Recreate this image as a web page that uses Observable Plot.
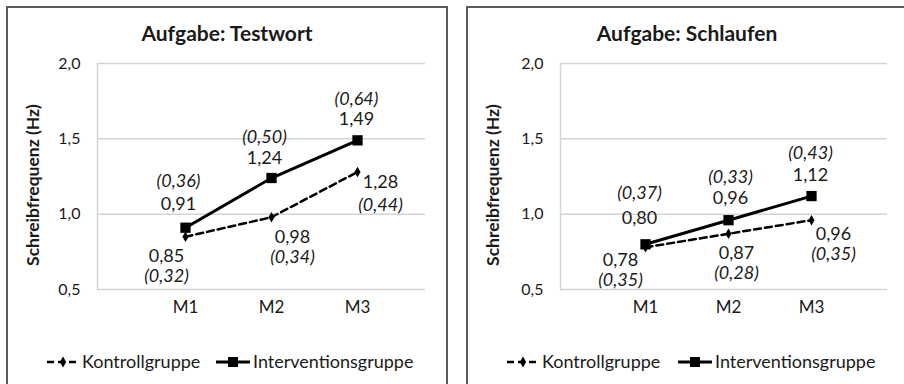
<!DOCTYPE html>
<html><head><meta charset="utf-8">
<script src="https://cdn.jsdelivr.net/npm/d3@7"></script>
<script src="https://cdn.jsdelivr.net/npm/@observablehq/plot@0.6"></script>
<style>
body{margin:0;background:#fff;width:904px;height:384px;overflow:hidden;position:relative;font-family:Lato,sans-serif;color:#1a1a1a}
.border{position:absolute;border:2px solid #5a5a5a;box-sizing:border-box;top:6px;height:420px;width:442px}
.svgwrap{position:absolute;top:0}
.title{position:absolute;top:20px;width:440px;text-align:center;font-weight:bold;font-size:21px;line-height:26px}
.ylab{position:absolute;font-weight:bold;font-size:17.5px;white-space:nowrap;transform:translate(-50%,-50%) rotate(-90deg)}
.legend{position:absolute;top:350px;height:26px}
</style>
</head><body>
<script>
// ---- data ----
const categories = ["M1", "M2", "M3"];
const seriesNames = ["Kontrollgruppe", "Interventionsgruppe"];
const titles = ["Aufgabe: Testwort", "Aufgabe: Schlaufen"];
const yAxisTitle = "Schreibfrequenz (Hz)";
const yTicks = [0.5, 1.0, 1.5, 2.0];

const testwortKontroll = [0.85, 0.98, 1.28];
const testwortKontrollSD = [0.32, 0.34, 0.44];
const testwortIntervention = [0.91, 1.24, 1.49];
const testwortInterventionSD = [0.36, 0.50, 0.64];

const schlaufenKontroll = [0.78, 0.87, 0.96];
const schlaufenKontrollSD = [0.35, 0.28, 0.35];
const schlaufenIntervention = [0.80, 0.96, 1.12];
const schlaufenInterventionSD = [0.37, 0.33, 0.43];

// ---- layout (not data) ----
const panels = [
  {title: titles[0], kon: testwortKontroll, konSD: testwortKontrollSD, int: testwortIntervention, intSD: testwortInterventionSD,
   svgLeft: 0, marginLeft: 97, marginRight: 27, xRange: [184, 357], borderLeft: 6, titleLeft: 7, ylabX: 32,
   intOff: [[-7,-23,-46],[-7,-20,-41],[-1,-21,-41]], konOff: [[-19,19,39],[21,20,40],[23,10,33]],
   legend: {left: 44, gap: 169}},
  {title: titles[1], kon: schlaufenKontroll, konSD: schlaufenKontrollSD, int: schlaufenIntervention, intSD: schlaufenInterventionSD,
   svgLeft: 452, marginLeft: 108, marginRight: 17, xRange: [192, 359], borderLeft: 466, titleLeft: 467, ylabX: 492,
   intOff: [[-6,-26,-51],[2,-22,-43],[-1,-21,-43]], konOff: [[-25,13,33],[8,19,39],[22,14,34]],
   legend: {left: 504, gap: 171}}
];

const fmt2 = v => v.toFixed(2).replace(".", ",");
const fmt1 = v => v.toFixed(1).replace(".", ",");

for (const p of panels) {
  const border = document.createElement("div");
  border.className = "border"; border.style.left = p.borderLeft + "px";
  document.body.appendChild(border);

  const kRows = categories.map((c, i) => ({cat: c, v: p.kon[i], sd: p.konSD[i]}));
  const iRows = categories.map((c, i) => ({cat: c, v: p.int[i], sd: p.intSD[i]}));

  const labelMarks = [];
  iRows.forEach((r, i) => {
    const [dx, dy1, dy2] = p.intOff[i];
    labelMarks.push(Plot.text([r], {x: "cat", y: "v", text: d => fmt2(d.v), dx, dy: dy1, fontSize: 18, fill: "#1a1a1a"}));
    labelMarks.push(Plot.text([r], {x: "cat", y: "v", text: d => "(" + fmt2(d.sd) + ")", dx, dy: dy2, fontSize: 18, fontStyle: "italic", fill: "#1a1a1a"}));
  });
  kRows.forEach((r, i) => {
    const [dx, dy1, dy2] = p.konOff[i];
    labelMarks.push(Plot.text([r], {x: "cat", y: "v", text: d => fmt2(d.v), dx, dy: dy1, fontSize: 18, fill: "#1a1a1a"}));
    labelMarks.push(Plot.text([r], {x: "cat", y: "v", text: d => "(" + fmt2(d.sd) + ")", dx, dy: dy2, fontSize: 18, fontStyle: "italic", fill: "#1a1a1a"}));
  });

  const chart = Plot.plot({
    width: 452, height: 384,
    marginLeft: p.marginLeft, marginRight: p.marginRight, marginTop: 63, marginBottom: 95,
    style: {fontFamily: "Lato, sans-serif", background: "transparent", color: "#1a1a1a"},
    x: {type: "point", domain: categories, range: p.xRange, padding: 0},
    y: {domain: [0.5, 2.0]},
    marks: [
      Plot.gridY(yTicks, {stroke: "#d4d4d4", strokeOpacity: 1, strokeWidth: 1.5}),
      Plot.frame({anchor: "left", stroke: "#d4d4d4", strokeWidth: 1.5}),
      Plot.axisY(yTicks, {tickSize: 0, tickPadding: 17, tickFormat: fmt1, fontSize: 16, label: null, fill: "#1a1a1a"}),
      Plot.axisX({tickSize: 0, tickPadding: 11, fontSize: 17, label: null, fill: "#1a1a1a"}),
      Plot.line(kRows, {x: "cat", y: "v", stroke: "#000", strokeWidth: 2.5, strokeDasharray: "7,4"}),
      Plot.dot(kRows, {x: "cat", y: "v", symbol: "diamond", r: 3.2, fill: "#000", stroke: "none"}),
      Plot.line(iRows, {x: "cat", y: "v", stroke: "#000", strokeWidth: 3}),
      Plot.dot(iRows, {x: "cat", y: "v", symbol: "square", r: 5.8, fill: "#000", stroke: "none"}),
      ...labelMarks
    ]
  });
  const wrap = document.createElement("div");
  wrap.className = "svgwrap"; wrap.style.left = p.svgLeft + "px";
  wrap.appendChild(chart);
  document.body.appendChild(wrap);

  const t = document.createElement("div");
  t.className = "title"; t.style.left = p.titleLeft + "px"; t.textContent = p.title;
  document.body.appendChild(t);

  const yl = document.createElement("div");
  yl.className = "ylab"; yl.style.left = p.ylabX + "px"; yl.style.top = "185px"; yl.textContent = yAxisTitle;
  document.body.appendChild(yl);

  // legend
  const lg = d3.select(document.body).append("svg").attr("class", "legend")
    .style("left", p.legend.left + "px").attr("width", 400).attr("height", 26);
  const cy = 12;
  lg.append("line").attr("x1", 3).attr("x2", 35).attr("y1", cy).attr("y2", cy)
    .attr("stroke", "#000").attr("stroke-width", 2.5).attr("stroke-dasharray", "7,4");
  lg.append("path").attr("d", d3.symbol(d3.symbolDiamond, 34)()).attr("transform", `translate(19,${cy})`).attr("fill", "#000");
  lg.append("text").attr("x", 38).attr("y", cy).attr("dy", "0.35em").attr("font-size", 18).attr("fill", "#1a1a1a")
    .style("font-family", "Lato, sans-serif").text(seriesNames[0]);
  const g2 = p.legend.gap;
  lg.append("line").attr("x1", g2 + 3).attr("x2", g2 + 37).attr("y1", cy).attr("y2", cy)
    .attr("stroke", "#000").attr("stroke-width", 3);
  lg.append("rect").attr("x", g2 + 15).attr("y", cy - 5).attr("width", 10).attr("height", 10).attr("fill", "#000");
  lg.append("text").attr("x", g2 + 40).attr("y", cy).attr("dy", "0.35em").attr("font-size", 18).attr("fill", "#1a1a1a")
    .style("font-family", "Lato, sans-serif").text(seriesNames[1]);
}
</script>
</body></html>
